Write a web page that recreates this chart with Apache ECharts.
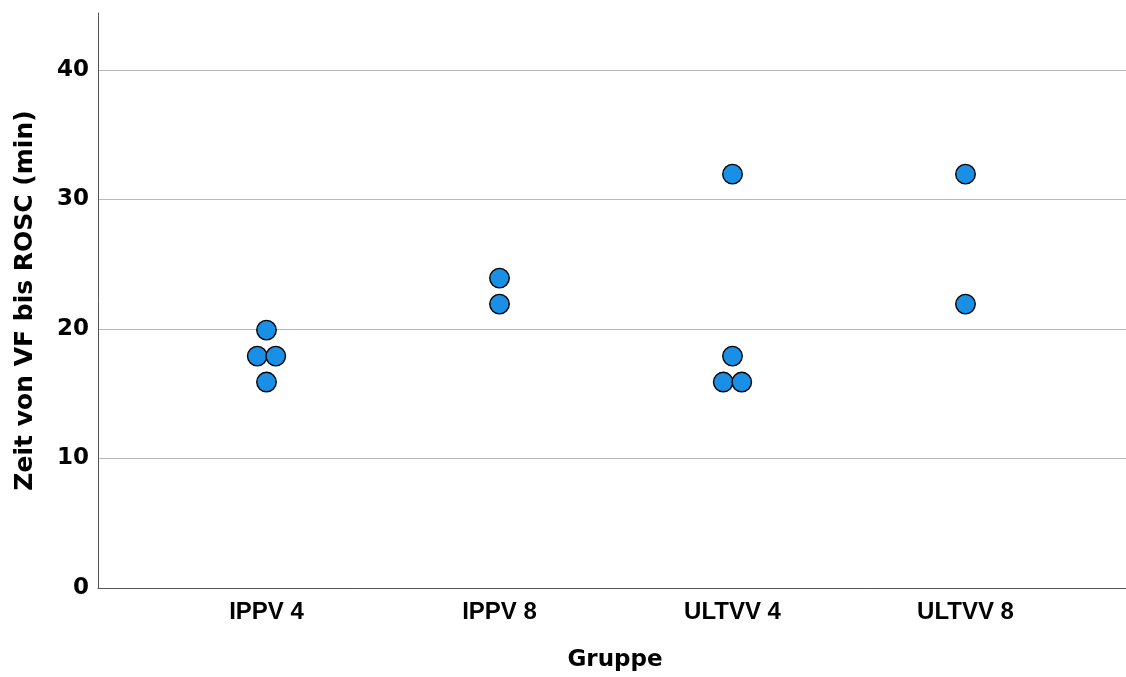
<!DOCTYPE html>
<html>
<head>
<meta charset="utf-8">
<script src="https://cdn.jsdelivr.net/npm/echarts@6/dist/echarts.min.js"></script>
<style>
  html, body { margin: 0; padding: 0; background: #ffffff; }
  #chart { width: 1126px; height: 677px; }
</style>
</head>
<body>
<div id="chart"></div>
<script>
// ---- data ----
const categories = ['IPPV 4', 'IPPV 8', 'ULTVV 4', 'ULTVV 8'];
const ippv4 = [20, 18, 18, 16];
const ippv8 = [24, 22];
const ultvv4 = [32, 18, 16, 16];
const ultvv8 = [32, 22];
const groupValues = [ippv4, ippv8, ultvv4, ultvv8];
const yTicks = [0, 10, 20, 30, 40];
const yTitle = 'Zeit von VF bis ROSC (min)';
const xTitle = 'Gruppe';

// ---- build points with simple dodge for equal values ----
const DOT = 19.5;
const points = [];
groupValues.forEach((vals, ci) => {
  const counts = {};
  vals.forEach(v => { counts[v] = (counts[v] || 0) + 1; });
  const seen = {};
  vals.forEach(v => {
    const n = counts[v];
    const k = seen[v] || 0;
    seen[v] = k + 1;
    const off = (k - (n - 1) / 2) * (DOT - 1);
    points.push({ value: [categories[ci], v], symbolOffset: [off, 0] });
  });
});

const YMAX = 44.4;
const chart = echarts.init(document.getElementById('chart'), null, { renderer: 'canvas' });
chart.setOption({
  backgroundColor: '#ffffff',
  animation: false,
  grid: [
    { left: 98, right: 0, top: 13, bottom: 87 },
    { left: 150, right: 44, top: 13, bottom: 87 }
  ],
  xAxis: [
    {
      gridIndex: 0, type: 'value', min: 0, max: 1,
      axisLine: { show: true, onZero: false, lineStyle: { color: '#555555', width: 1 } },
      axisTick: { show: false }, axisLabel: { show: false }, splitLine: { show: false },
      name: xTitle, nameLocation: 'middle', nameGap: 61,
      nameTextStyle: { fontFamily: 'DejaVu Sans', fontWeight: 'bold', fontSize: 23, color: '#000000', padding: [0, 0, 0, 6] }
    },
    {
      gridIndex: 1, type: 'category', data: categories, boundaryGap: true,
      axisLine: { show: false }, axisTick: { show: false },
      axisLabel: { margin: 10, fontFamily: 'Liberation Sans', fontWeight: 'bold', fontSize: 24, color: '#000000' },
      splitLine: { show: false }
    }
  ],
  yAxis: [
    {
      gridIndex: 0, type: 'value', min: 0, max: YMAX, interval: 10,
      axisLine: { show: true, lineStyle: { color: '#555555', width: 1 } },
      axisTick: { show: false },
      axisLabel: { margin: 9, showMaxLabel: false, fontFamily: 'DejaVu Sans', fontWeight: 'bold', fontSize: 23, color: '#000000',
        formatter: v => (yTicks.indexOf(v) >= 0 ? String(v) : '') },
      splitLine: { show: true, showMaxLine: false, lineStyle: { color: '#b9b9b9', width: 1 } },
      name: yTitle, nameLocation: 'middle', nameGap: 60,
      nameTextStyle: { fontFamily: 'DejaVu Sans', fontWeight: 'bold', fontSize: 25, color: '#000000' }
    },
    {
      gridIndex: 1, type: 'value', min: 0, max: YMAX, interval: 10,
      axisLine: { show: false }, axisTick: { show: false }, axisLabel: { show: false }, splitLine: { show: false }
    }
  ],
  series: [{
    type: 'scatter',
    xAxisIndex: 1, yAxisIndex: 1,
    symbol: 'circle',
    symbolSize: DOT,
    itemStyle: { color: '#1a8fe6', borderColor: '#000000', borderWidth: 1.4, opacity: 1 },
    data: points
  }]
});
</script>
</body>
</html>
